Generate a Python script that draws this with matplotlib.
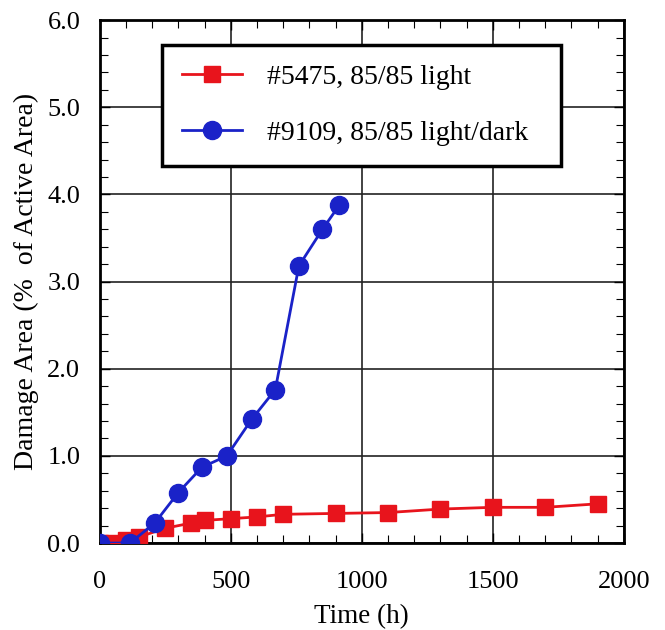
import matplotlib
matplotlib.use("Agg")
import matplotlib.pyplot as plt
from matplotlib.ticker import MultipleLocator

# Data
red_x = [0, 50, 100, 150, 250, 350, 400, 500, 600, 700, 900, 1100, 1300, 1500, 1700, 1900]
red_y = [0.0, 0.0, 0.03, 0.07, 0.17, 0.23, 0.26, 0.28, 0.30, 0.33, 0.34, 0.35, 0.39, 0.41, 0.41, 0.45]
blue_x = [0, 115, 210, 300, 390, 485, 580, 670, 760, 850, 915]
blue_y = [0.0, 0.0, 0.23, 0.58, 0.87, 1.0, 1.42, 1.76, 3.18, 3.6, 3.88]
y_ticks = [0, 1, 2, 3, 4, 5, 6]
red_label = "#5475, 85/85 light"
blue_label = "#9109, 85/85 light/dark"

plt.rcParams['font.family'] = ['Liberation Serif', 'DejaVu Serif']
FS = 19

fig = plt.figure(figsize=(6.65, 6.3), dpi=100)
ax = fig.add_axes([0.150, 0.138, 0.788, 0.830])

ax.plot(red_x, red_y, color='#e8141c', marker='s', markersize=12, linewidth=2.0,
        label=red_label, zorder=3)
ax.plot(blue_x, blue_y, color='#1a22c8', marker='o', markersize=13, linewidth=2.0,
        label=blue_label, zorder=4)

ax.set_xlim(0, 2000)
ax.set_ylim(0, 6.0)
ax.xaxis.set_major_locator(MultipleLocator(500))
ax.xaxis.set_minor_locator(MultipleLocator(100))
ax.yaxis.set_minor_locator(MultipleLocator(0.2))
ax.set_yticks(y_ticks)
ax.set_yticklabels([f"{v:.1f}" for v in y_ticks])
ax.grid(True, which='major', color='#222222', linewidth=1.2)
ax.tick_params(which='both', direction='in', top=True, right=True, labelsize=FS)
ax.tick_params(axis='x', pad=20)
ax.tick_params(axis='y', pad=14)
ax.tick_params(which='major', length=7, width=1.0)
ax.tick_params(which='minor', length=6, width=0.8)
for s in ax.spines.values():
    s.set_linewidth(2.0)

ax.set_xlabel("Time (h)", fontsize=19.5, labelpad=8)
ax.set_ylabel("Damage Area (%  of Active Area)", fontsize=20, labelpad=6)

leg = ax.legend(loc='upper left', bbox_to_anchor=(0.118, 0.953, 0.763, 0.0),
                mode='expand', fontsize=20,
                frameon=True, fancybox=False, edgecolor='black', framealpha=1,
                borderpad=0.72, labelspacing=1.1, handlelength=2.16, handletextpad=0.9,
                borderaxespad=0)
leg.get_frame().set_linewidth(2.5)

fig.savefig("out.png", dpi=100)
